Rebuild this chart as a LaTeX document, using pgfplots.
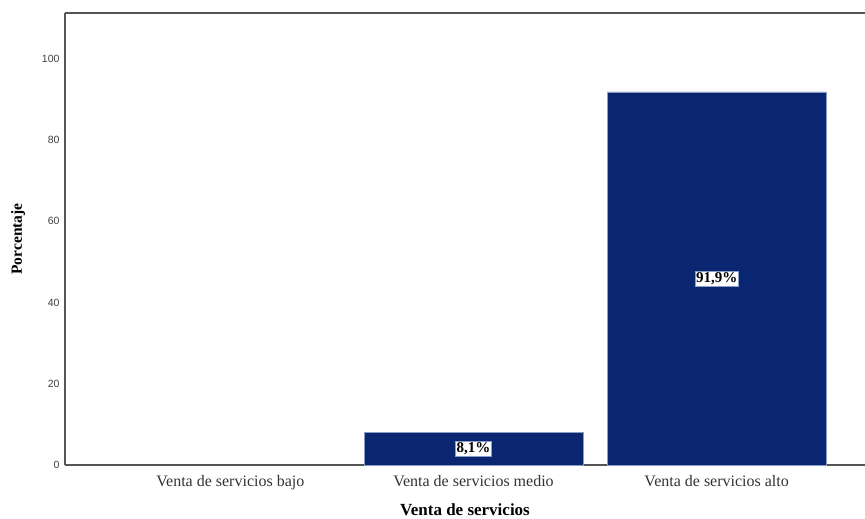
\documentclass[border=0pt]{standalone}
\usepackage{pgfplots}
\pgfplotsset{compat=1.18}
\usepackage{fontspec}
\setmainfont{Liberation Serif}
\newfontfamily\arialf{Liberation Sans}
\definecolor{barblue}{HTML}{0B2670}
\definecolor{baredge}{HTML}{8A9CC8}
\definecolor{axgray}{HTML}{555555}
\begin{document}
\begin{tikzpicture}
\begin{axis}[
  scale only axis,
  width=800pt, height=452pt,
  xmin=-0.68, xmax=2.61,
  ymin=0, ymax=111.3,
  axis x line=bottom, axis y line=left,
  axis line style={axgray, line width=1.2pt, -},
  xtick={0,1,2},
  xticklabels={Venta de servicios bajo, Venta de servicios medio, Venta de servicios alto},
  ytick={0,20,40,60,80,100},
  major tick length=0pt,
  tick style={draw=none},
  xticklabel style={font=\fontsize{16}{18}\selectfont, text=black!80, yshift=-7pt},
  yticklabel style={font=\arialf\fontsize{10.5}{12}\selectfont, text=black!75, xshift=-2pt},
  /pgf/number format/assume math mode=true,
  xlabel={\textbf{Venta de servicios}},
  xlabel style={font=\fontsize{17}{19}\selectfont, inner sep=0pt, yshift=-10pt},
  ylabel={\textbf{Porcentaje}},
  ylabel style={font=\fontsize{15.5}{17}\selectfont, yshift=10pt},
  ybar, bar width=0.9, bar shift=0pt,
  clip=false,
]
\addplot[fill=barblue, draw=baredge, line width=0.4pt] coordinates {(1,8.1) (2,91.9)};
\node[fill=white, draw=baredge, line width=0.3pt, inner sep=1.2pt, font=\bfseries\fontsize{15}{17}\selectfont] at (axis cs:1,4.05) {8,1\%};
\node[fill=white, draw=baredge, line width=0.3pt, inner sep=1.2pt, font=\bfseries\fontsize{15}{17}\selectfont] at (axis cs:2,45.95) {91,9\%};
\draw[axgray, line width=1.2pt] (rel axis cs:0,1) -- (rel axis cs:1,1);
\end{axis}
\pgfresetboundingbox
\path (current axis.south west) ++(-65pt,-53pt) rectangle ([yshift=13pt]current axis.north east);
\end{tikzpicture}
\end{document}
